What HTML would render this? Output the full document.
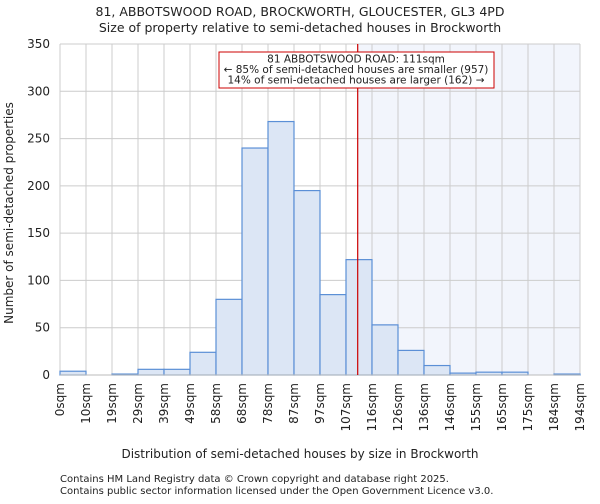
<!DOCTYPE html>
<html><head><meta charset="utf-8"><style>
body{margin:0;background:#fff;font-family:"DejaVu Sans","Liberation Sans",sans-serif;}
svg text{font-family:"DejaVu Sans","Liberation Sans",sans-serif;fill:#222;}
</style></head><body>
<svg id="chart" width="600" height="500">
<text x="300" y="16" text-anchor="middle" font-size="12.5">81, ABBOTSWOOD ROAD, BROCKWORTH, GLOUCESTER, GL3 4PD</text>
<text x="300" y="32" text-anchor="middle" font-size="12.5">Size of property relative to semi-detached houses in Brockworth</text>
<g id="plot"></g>
<text x="300" y="458" text-anchor="middle" font-size="12">Distribution of semi-detached houses by size in Brockworth</text>
<text transform="translate(13,213) rotate(-90)" text-anchor="middle" font-size="12">Number of semi-detached properties</text>
<text x="60" y="482" font-size="10" fill="#444">Contains HM Land Registry data © Crown copyright and database right 2025.</text>
<text x="60" y="494" font-size="10" fill="#444">Contains public sector information licensed under the Open Government Licence v3.0.</text>
</svg>
<script>
const binLabels=["0sqm","10sqm","19sqm","29sqm","39sqm","49sqm","58sqm","68sqm","78sqm","87sqm","97sqm","107sqm","116sqm","126sqm","136sqm","146sqm","155sqm","165sqm","175sqm","184sqm","194sqm"];
const counts=[4,0,1,6,6,24,80,240,268,195,85,122,53,26,10,2,3,3,0,1];
const yTicks=[0,50,100,150,200,250,300,350];
const markerBin=11.45;
const L=60,R=580,T=44,B=375,yMax=350;
const n=counts.length,bw=(R-L)/n;
const xs=i=>L+i*bw, ys=v=>B-(v/yMax)*(B-T);
const g=document.getElementById('plot');
const NS='http://www.w3.org/2000/svg';
function mk(t,a){const e=document.createElementNS(NS,t);for(const k in a)e.setAttribute(k,a[k]);g.appendChild(e);return e;}
const mx=xs(markerBin);
let e=mk('rect',{x:mx,y:T,width:R-mx,height:B-T,fill:'#f2f5fc'});


for(let i=0;i<=n;i++){e=mk('line',{x1:xs(i),x2:xs(i),y1:T,y2:B,stroke:'#cccccc','stroke-width':1});

}
yTicks.forEach(v=>{e=mk('line',{x1:L,x2:R,y1:ys(v),y2:ys(v),stroke:'#cccccc','stroke-width':1});


e=mk('text',{x:L-10,y:ys(v)+4,'text-anchor':'end','font-size':12});e.textContent=v;

});
counts.forEach((c,i)=>{if(c<=0)return;e=mk('rect',{x:xs(i),y:ys(c),width:bw,height:B-ys(c),fill:'#dce6f5',stroke:'#5b8fd6','stroke-width':1.2});

});
binLabels.forEach((l,i)=>{e=mk('text',{transform:`translate(${xs(i)+4},${B+8}) rotate(-90)`,'text-anchor':'end','font-size':12});e.textContent=l;

});
e=mk('line',{x1:L,x2:R,y1:B,y2:B,stroke:'#bbb','stroke-width':1});


e=mk('line',{x1:mx,x2:mx,y1:T,y2:B,stroke:'#cc0000','stroke-width':1.2});


e=mk('rect',{x:219,y:52,width:275,height:36,fill:'#fff',stroke:'#cc0000','stroke-width':1});


["81 ABBOTSWOOD ROAD: 111sqm","← 85% of semi-detached houses are smaller (957)","14% of semi-detached houses are larger (162) →"].forEach((t,i)=>{
e=mk('text',{x:356,y:62.5+i*10.5,'text-anchor':'middle','font-size':10.5});e.textContent=t;

});
</script>
</body></html>
